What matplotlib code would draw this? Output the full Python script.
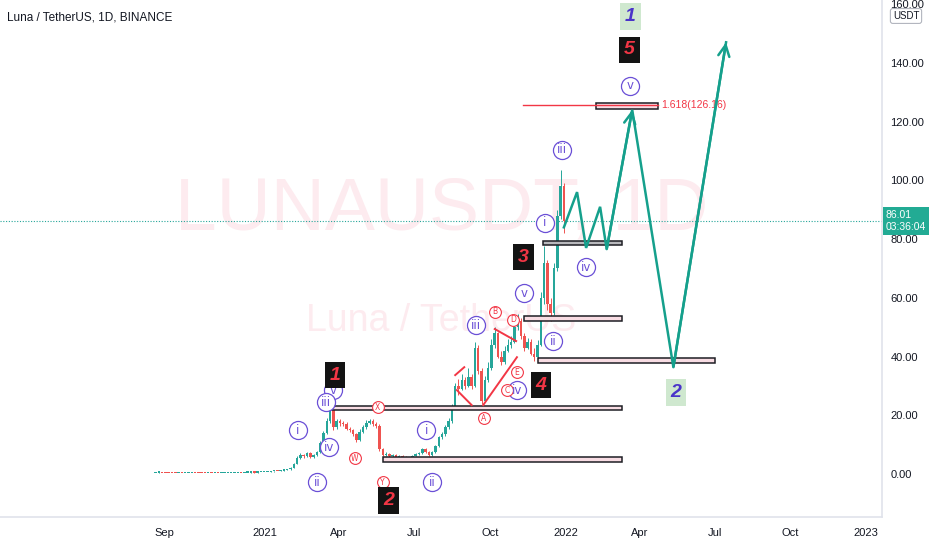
import datetime as dt
import numpy as np
import matplotlib
matplotlib.use("Agg")
import matplotlib.pyplot as plt
import matplotlib.dates as mdates
from matplotlib.patches import Rectangle

plt.rcParams['font.family'] = ['Liberation Sans', 'DejaVu Sans']

# ---- candle data: 4-day bars starting 2020-08-21 ----
bar_start = dt.date(2020, 8, 21)
bar_step = 4
closes = [
    0.45, 0.50, 0.42, 0.38, 0.35, 0.33, 0.30, 0.32, 0.30, 0.31,
    0.34, 0.36, 0.33, 0.31, 0.30, 0.29, 0.31, 0.30, 0.32, 0.30,
    0.31, 0.32, 0.34, 0.38, 0.40, 0.45, 0.42, 0.44, 0.50, 0.55,
    0.52, 0.58, 0.62, 0.65, 0.70, 0.90, 1.10, 1.00, 1.20, 1.40,
    1.60, 2.20, 3.50, 5.50, 6.50, 6.00, 7.20, 5.80, 6.50, 7.50,
    10.5, 14.0, 18.0, 22.0, 16.0, 18.0, 17.5, 17.0, 15.5, 15.0,
    13.5, 11.5, 14.5, 16.0, 17.5, 18.0, 17.0, 16.5, 8.5, 6.5,
    6.8, 6.0, 6.5, 5.5, 6.2, 5.8, 4.8, 5.6, 6.2, 6.8,
    7.2, 8.5, 7.5, 6.5, 7.5, 9.5, 12.5, 13.5, 16.0, 18.0,
    23.0, 30.0, 29.0, 32.0, 30.0, 33.0, 30.0, 43.0, 35.0, 25.0,
    32.0, 36.0, 44.0, 48.0, 40.0, 38.0, 42.0, 44.0, 45.0, 50.0,
    52.0, 47.0, 43.0, 45.0, 41.0, 40.0, 44.0, 60.0, 72.0, 58.0,
    55.0, 70.0, 88.0, 98.0, 86.0]
highs = [
    0.50, 0.55, 0.52, 0.44, 0.40, 0.37, 0.35, 0.35, 0.34, 0.34,
    0.37, 0.39, 0.38, 0.35, 0.33, 0.32, 0.33, 0.33, 0.34, 0.34,
    0.33, 0.35, 0.37, 0.41, 0.43, 0.48, 0.47, 0.47, 0.53, 0.58,
    0.58, 0.61, 0.66, 0.70, 0.75, 0.95, 1.20, 1.15, 1.30, 1.50,
    1.75, 2.40, 3.90, 6.00, 7.20, 6.90, 7.60, 7.40, 6.90, 7.90,
    11.2, 14.8, 19.0, 23.2, 21.0, 18.8, 18.6, 18.0, 17.6, 16.2,
    15.4, 14.0, 15.2, 16.8, 18.3, 18.9, 18.6, 17.6, 17.0, 9.0,
    7.4, 7.1, 6.9, 6.8, 6.6, 6.4, 6.0, 5.9, 6.5, 7.1,
    7.6, 9.0, 8.8, 7.8, 7.9, 10.0, 13.0, 14.5, 16.8, 19.0,
    24.0, 31.0, 32.5, 34.0, 33.0, 36.0, 34.0, 45.0, 44.0, 36.0,
    33.5, 38.0, 46.0, 50.0, 48.5, 42.0, 43.5, 46.0, 47.0, 51.5,
    54.5, 53.0, 48.0, 46.5, 46.0, 43.0, 45.5, 62.0, 77.5, 73.0,
    60.0, 72.0, 90.0, 103.5, 99.0]
lows = [
    0.40, 0.43, 0.40, 0.36, 0.33, 0.31, 0.28, 0.29, 0.28, 0.29,
    0.30, 0.33, 0.31, 0.29, 0.28, 0.27, 0.28, 0.28, 0.29, 0.28,
    0.29, 0.30, 0.31, 0.34, 0.37, 0.39, 0.40, 0.40, 0.43, 0.48,
    0.49, 0.50, 0.56, 0.60, 0.63, 0.68, 0.85, 0.95, 0.98, 1.15,
    1.35, 1.50, 2.10, 3.30, 5.20, 5.50, 5.80, 5.50, 5.60, 6.20,
    7.30, 10.0, 13.5, 17.5, 15.0, 15.5, 16.5, 16.3, 15.0, 14.3,
    13.0, 11.0, 11.3, 14.0, 15.5, 17.0, 16.5, 15.8, 8.0, 6.0,
    6.0, 5.6, 5.8, 5.2, 5.3, 5.5, 4.5, 4.6, 5.4, 6.0,
    6.5, 7.0, 7.2, 6.2, 6.3, 7.3, 9.2, 12.0, 13.0, 15.5,
    17.5, 22.5, 27.0, 28.5, 29.0, 29.5, 29.0, 29.5, 34.0, 24.0,
    24.5, 31.5, 35.5, 43.0, 39.5, 37.0, 37.5, 41.5, 43.0, 44.5,
    49.0, 46.0, 42.0, 42.5, 40.5, 38.5, 39.0, 43.5, 58.0, 56.0,
    52.0, 54.0, 69.0, 87.0, 82.0]
first_open = 0.42
last_price = 86.01

# ---- projection path (teal) ----
path_dates = ['2021-12-30', '2022-01-15', '2022-01-26', '2022-02-12', '2022-02-20',
              '2022-03-23', '2022-05-12', '2022-07-15']
path_prices = [84.0, 96.0, 77.0, 91.0, 76.6, 124.0, 36.4, 147.0]

# ---- support / target zones ----
zone_start = ['2021-05-24', '2021-03-23', '2021-11-28', '2021-11-12', '2021-12-05', '2022-02-07']
zone_end = ['2022-03-11', '2022-03-11', '2022-07-02', '2022-03-11', '2022-03-10', '2022-04-23']
zone_low = [4.1, 21.9, 37.8, 52.1, 78.0, 124.3]
zone_high = [5.8, 23.3, 39.5, 53.8, 79.2, 126.4]
zone_fill = ['#f8dce3', '#f8dce3', '#f8dce3', '#f8dce3', '#b8b8bc', '#f8dce3']

fib_start = '2021-11-10'
fib_end = '2022-04-23'
fib_price = 125.7
fib_text = '1.618(126.16)'

# ---- red trend lines ----
trend_lines = [
    ('2021-08-20', 33.7, '2021-08-31', 36.4),
    ('2021-08-22', 28.6, '2021-09-09', 23.5),
    ('2021-10-07', 49.4, '2021-11-02', 45.3),
    ('2021-09-23', 23.5, '2021-11-03', 39.8),
]

# ---- wave labels ----
minor_dates = ['2021-02-10', '2021-03-05', '2021-03-25', '2021-03-16', '2021-03-20',
               '2021-07-16', '2021-07-23', '2021-09-14', '2021-11-03', '2021-11-12',
               '2021-12-17', '2021-12-07', '2022-01-26', '2021-12-28', '2022-03-20']
minor_prices = [15.0, -2.7, 28.6, 24.5, 9.2, 15.0, -2.7, 50.7, 28.6, 61.6,
                45.3, 85.5, 70.5, 110.4, 132.2]
minor_text = ['i', 'ii', 'v', 'iii', 'iv', 'i', 'ii', 'iii', 'iv', 'v',
              'ii', 'i', 'iv', 'iii', 'v']

abc_dates = ['2021-05-18', '2021-04-20', '2021-05-24', '2021-09-24', '2021-10-07',
             '2021-10-22', '2021-10-29', '2021-11-03']
abc_prices = [22.8, 5.4, -2.7, 19.1, 55.2, 28.6, 52.5, 34.7]
abc_text = ['X', 'W', 'Y', 'A', 'B', 'C', 'D', 'E']

major_dates = ['2021-03-27', '2021-05-31', '2021-11-11', '2021-12-02', '2022-03-20']
major_prices = [33.7, -8.9, 73.9, 30.3, 144.4]
major_text = ['1', '2', '3', '4', '5']

cycle_dates = ['2022-03-21', '2022-05-15']
cycle_prices = [155.7, 27.9]
cycle_text = ['1', '2']

x_tick_dates = ['2020-09-01', '2021-01-01', '2021-04-01', '2021-07-01', '2021-10-01',
                '2022-01-01', '2022-04-01', '2022-07-01', '2022-10-01', '2023-01-01']
x_tick_labels = ['Sep', '2021', 'Apr', 'Jul', 'Oct', '2022', 'Apr', 'Jul', 'Oct', '2023']
y_ticks = [0, 20, 40, 60, 80, 100, 120, 140, 160]


def dn(s):
    return mdates.datestr2num(s)


UP = '#26a69a'
DOWN = '#ef5350'
TEAL = '#15a08c'
PURPLE = '#6a4fd6'
RED = '#f23645'
TXT = '#131722'
WATER = '#fdebef'

W, H = 932, 550
fig = plt.figure(figsize=(W / 100, H / 100), dpi=100)
ax = fig.add_axes([0, 1 - 517 / H, 882 / W, 517 / H])

jan1 = dn('2021-01-01')
ax.set_xlim(jan1 - 321.9, jan1 + 749.4)
ax.set_ylim(-14.6, 161.4)

# watermark
ax.text(dn('2021-08-04'), 90.0, 'LUNAUSDT, 1D', ha='center', va='center',
        fontsize=54, color=WATER, zorder=0)
ax.text(dn('2021-08-03'), 52.0, 'Luna / TetherUS', ha='center', va='center',
        fontsize=27, color=WATER, zorder=0)

ax.axhline(last_price, color=UP, ls=(0, (1, 1.5)), lw=0.8, zorder=1)

# candles
bar_x = np.array([mdates.date2num(bar_start + dt.timedelta(days=bar_step * i))
                  for i in range(len(closes))])
opens = [first_open] + closes[:-1]
cols = [UP if c >= o else DOWN for o, c in zip(opens, closes)]
ax.vlines(bar_x, lows, highs, colors=cols, lw=0.7, zorder=3)
bottoms = [min(o, c) for o, c in zip(opens, closes)]
heights = [max(abs(c - o), 0.45) for o, c in zip(opens, closes)]
ax.bar(bar_x, heights, bottom=bottoms, width=3.0, color=cols, lw=0, zorder=3)

# zones
for s, e, lo, hi, fc in zip(zone_start, zone_end, zone_low, zone_high, zone_fill):
    ax.add_patch(Rectangle((dn(s), lo), dn(e) - dn(s), hi - lo, fc=fc,
                           ec='#1e1e24', lw=1.1, zorder=4))

ax.plot([dn(fib_start), dn(fib_end)], [fib_price, fib_price], color=RED, lw=1.0, zorder=5)
ax.text(dn(fib_end) + 4, fib_price, fib_text, color=RED, fontsize=7.5,
        ha='left', va='center', zorder=6)

for d0, p0, d1, p1 in trend_lines:
    ax.plot([dn(d0), dn(d1)], [p0, p1], color=RED, lw=1.4, zorder=5)

# projection path
px = [dn(d) for d in path_dates]
ax.plot(px, path_prices, color=TEAL, lw=1.8, zorder=6, solid_joinstyle='miter')
for i in (5, 7):
    ax.annotate('', xy=(px[i], path_prices[i]), xytext=(px[i - 1], path_prices[i - 1]),
                arrowprops=dict(arrowstyle='->', color=TEAL, lw=1.8,
                                mutation_scale=20, shrinkA=0, shrinkB=0), zorder=6)

# circled labels
for d, p, t in zip(minor_dates, minor_prices, minor_text):
    ax.plot(dn(d), p, 'o', ms=13, mfc='white', mec=PURPLE, mew=0.9, zorder=7)
    ax.text(dn(d), p, t, color=PURPLE, fontsize=8.5, family='DejaVu Sans',
            ha='center', va='center', zorder=8)

for d, p, t in zip(abc_dates, abc_prices, abc_text):
    ax.plot(dn(d), p, 'o', ms=8.5, mfc='white', mec=RED, mew=0.8, zorder=7)
    ax.text(dn(d), p, t, color=RED, fontsize=5.5, family='DejaVu Sans',
            ha='center', va='center', zorder=8)

for d, p, t in zip(major_dates, major_prices, major_text):
    ax.text(dn(d), p, t, color=RED, fontsize=14, fontstyle='italic', fontweight='bold',
            ha='center', va='center', zorder=9,
            bbox=dict(boxstyle='square,pad=0.25', fc='#131313', ec='none'))

for d, p, t in zip(cycle_dates, cycle_prices, cycle_text):
    ax.text(dn(d), p, t, color='#4a34c9', fontsize=14, fontstyle='italic', fontweight='bold',
            ha='center', va='center', zorder=9,
            bbox=dict(boxstyle='square,pad=0.25', fc='#cfe8cf', ec='none'))

# axes styling
for side in ('left', 'top'):
    ax.spines[side].set_visible(False)
for side in ('right', 'bottom'):
    ax.spines[side].set_color('#e0e3eb')
    ax.spines[side].set_linewidth(1.2)

ax.xaxis.set_major_locator(matplotlib.ticker.FixedLocator([dn(d) for d in x_tick_dates]))
ax.xaxis.set_major_formatter(matplotlib.ticker.FixedFormatter(x_tick_labels))
ax.yaxis.tick_right()
ax.set_yticks(y_ticks)
ax.set_yticklabels([f'{v:.2f}' for v in y_ticks])
ax.tick_params(axis='x', length=0, pad=8, labelsize=8, labelcolor=TXT)
ax.tick_params(axis='y', length=0, pad=6, labelsize=8, labelcolor=TXT)

fig.text(7 / W, 1 - 18 / H, 'Luna / TetherUS, 1D, BINANCE', fontsize=8.5, color=TXT,
         ha='left', va='center')
fig.text(906 / W, 1 - 16 / H, 'USDT', fontsize=7, color=TXT, ha='center', va='center',
         bbox=dict(boxstyle='round,pad=0.25', fc='white', ec='#b2b5be', lw=0.8))
fig.text(886 / W, 1 - 221 / H, f'{last_price:.2f}\n03:36:04', fontsize=7.5, color='white',
         ha='left', va='center', linespacing=1.25,
         bbox=dict(boxstyle='square,pad=0.3', fc='#22ab94', ec='none'))

fig.savefig('out.png', dpi=100)
